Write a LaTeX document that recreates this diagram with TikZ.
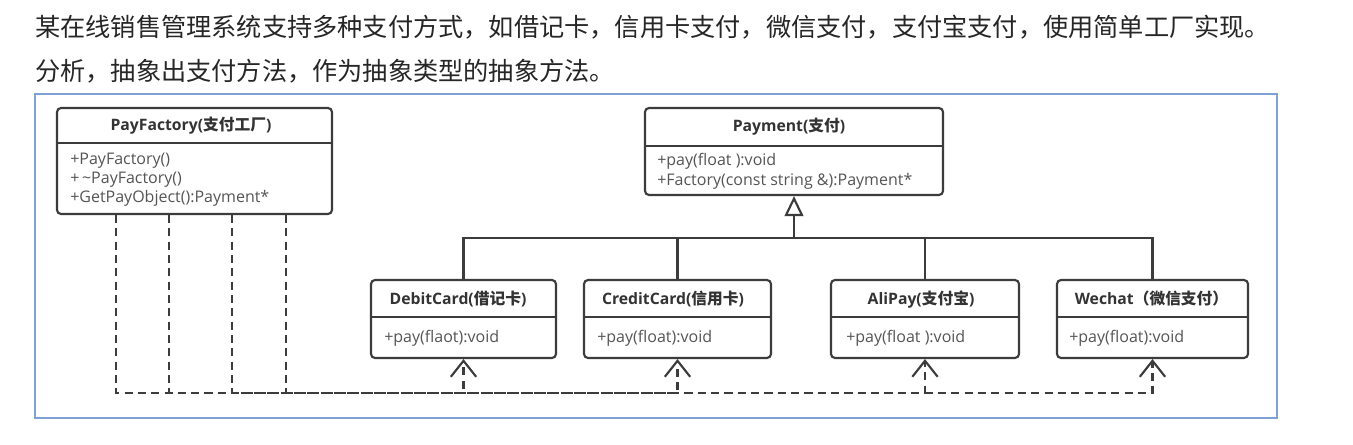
\documentclass[tikz,border=0pt]{standalone}
\usepackage{fontspec}
\setmainfont{Noto Sans CJK SC}
\newfontfamily\lat{Open Sans}
\newfontfamily\cjk{Noto Sans CJK SC}
\usetikzlibrary{arrows.meta,fit}
\definecolor{ln}{HTML}{3C3C3C}
\definecolor{framec}{HTML}{7EA0D6}
\definecolor{bodytxt}{HTML}{555555}
\definecolor{hdrtxt}{HTML}{333333}
\begin{document}
\begin{tikzpicture}[x=0.75pt,y=-0.75pt,
  classbox/.style={draw=ln, line width=1.6pt, rounded corners=3pt, inner sep=0pt},
  hdr/.style={font=\lat\bfseries\fontsize{11.8}{14}\selectfont, text=hdrtxt, inner sep=0pt, anchor=base},
  body/.style={font=\lat\fontsize{12}{14}\selectfont, text=bodytxt, anchor=base west, inner sep=0pt},
  sepline/.style={draw=ln, line width=1.6pt},
  gen/.style={draw=ln, line width=1.6pt},
  dep/.style={draw=ln, line width=1.6pt, dash pattern=on 6pt off 4pt, -{Straight Barb[length=12pt,width=19pt]}},
  ttl/.style={font=\fontsize{18.9}{22}\selectfont, text=black!85, anchor=west, inner sep=0pt}
]
\useasboundingbox (0,0) rectangle (1353,445);
\fill[white] (0,0) rectangle (1353,445);

\node[ttl] (t1) at (35,27) {某在线销售管理系统支持多种支付方式，如借记卡，信用卡支付，微信支付，支付宝支付，使用简单工厂实现。};
\node[ttl] (t2) at (35,71) {分析，抽象出支付方法，作为抽象类型的抽象方法。};

\draw[framec, line width=1.5pt] (35,94) rectangle (1277,418);

% class boxes
\node[classbox, fit={(57,108) (332,214)}] (pf) {};
\node[classbox, fit={(645,108) (943,195)}] (pay) {};
\node[classbox, fit={(371,280) (556,358)}] (debit) {};
\node[classbox, fit={(584,280) (771,358)}] (credit) {};
\node[classbox, fit={(831,280) (1019,358)}] (ali) {};
\node[classbox, fit={(1057,280) (1248,358)}] (wechat) {};

\coordinate (s1) at (0,143);
\coordinate (s2) at (0,146);
\coordinate (s3) at (0,317);
\draw[sepline] (pf.west |- s1) -- (pf.east |- s1);
\draw[sepline] (pay.west |- s2) -- (pay.east |- s2);
\draw[sepline] (debit.west |- s3) -- (debit.east |- s3);
\draw[sepline] (credit.west |- s3) -- (credit.east |- s3);
\draw[sepline] (ali.west |- s3) -- (ali.east |- s3);
\draw[sepline] (wechat.west |- s3) -- (wechat.east |- s3);

% texts
\node[hdr] (pfh) at (191,131) {PayFactory({\cjk 支付工厂})};
\node[body] (pf1) at (70,165) {+PayFactory()};
\node[body] (pf2) at (70,184) {+\,\textasciitilde PayFactory()};
\node[body] (pf3) at (70,203) {+GetPayObject():Payment*};

\node[hdr] (payh) at (789,132) {Payment({\cjk 支付})};
\node[body] (pay1) at (657,166) {+pay(float ):void};
\node[body] (pay2) at (657,186) {+Factory(const string \&):Payment*};

\node[hdr] (debh) at (458,305) {DebitCard({\cjk 借记卡})};
\node[body] (deb1) at (384,343) {+pay(flaot):void};
\node[hdr] (crh) at (673,305) {CreditCard({\cjk 信用卡})};
\node[body] (cr1) at (597,343) {+pay(float):void};
\node[hdr] (alih) at (921,305) {AliPay({\cjk 支付宝})};
\node[body] (ali1) at (846,343) {+pay(float ):void};
\node[hdr] (weh) at (1151.5,305) {Wechat{\cjk （微信支付）}};
\node[body] (we1) at (1069,343) {+pay(float):void};

% generalization
\coordinate (hy) at (0,238);
\coordinate (hub) at (pay.south |- hy);
\draw[gen] (debit.north) |- (hub);
\draw[gen] (credit.north) |- (hub);
\draw[gen] (ali.north) |- (hub);
\draw[gen] (wechat.north) |- (hub);
\draw[gen, -{Triangle[open, length=15pt, width=14pt]}] (hub) -- (pay.south);

% dependencies
\coordinate (bus) at (0,393);
\coordinate (d1) at ([xshift=45pt]pf.south west);
\coordinate (d2) at ([xshift=84.75pt]pf.south west);
\coordinate (d3) at ([xshift=132pt]pf.south west);
\coordinate (d4) at ([xshift=172.5pt]pf.south west);
\draw[dep] (d1) -- (d1 |- bus) -| (wechat.south);
\draw[dep] (d2) -- (d2 |- bus) -| (ali.south);
\draw[dep] (d3) -- (d3 |- bus) -| (credit.south);
\draw[dep] (d4) -- (d4 |- bus) -| (debit.south);
\end{tikzpicture}
\end{document}
